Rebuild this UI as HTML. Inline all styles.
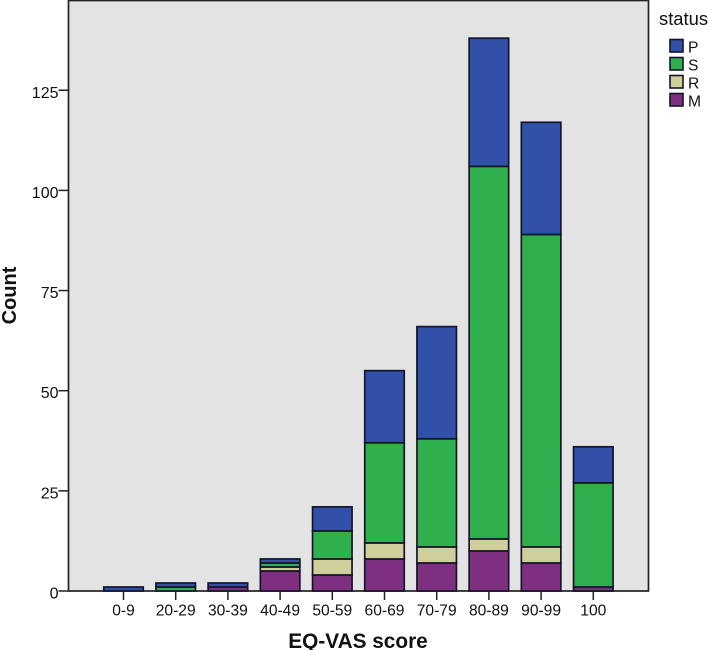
<!DOCTYPE html>
<html>
<head>
<meta charset="utf-8">
<style>
html,body{margin:0;padding:0;background:#fff;}
svg{display:block;}
text{font-family:"Liberation Sans",sans-serif;fill:#111;}
</style>
</head>
<body>
<svg id="chart" xmlns="http://www.w3.org/2000/svg" width="709" height="650" viewBox="0 0 709 650">
<rect x="68.5" y="0.5" width="580" height="590.5" fill="#e3e3e3" stroke="#222" stroke-width="1.7"></rect>
<g id="bars"></g>
<g id="axes"></g>
<text x="358" y="648" font-size="20.8" font-weight="bold" text-anchor="middle">EQ-VAS score</text>
<text transform="translate(16,295.5) rotate(-90)" font-size="20" font-weight="bold" text-anchor="middle">Count</text>
<g id="legend"></g>
</svg>
<script>
const categories = ['0-9','20-29','30-39','40-49','50-59','60-69','70-79','80-89','90-99','100'];
const seriesM = [0,0,1,5,4,8,7,10,7,1];
const seriesR = [0,0,0,1,4,4,4,3,4,0];
const seriesS = [0,1,0,1,7,25,27,93,78,26];
const seriesP = [1,1,1,1,6,18,28,32,28,9];
const yTicks = [0,25,50,75,100,125];
const seriesNames = ['M','R','S','P'];
const legendOrder = ['P','S','R','M'];

const colors = {P:'#3150a8',S:'#30b04c',R:'#d0cf9c',M:'#7f2f80'};
const seriesValues = {M:seriesM,R:seriesR,S:seriesS,P:seriesP};
const NS = 'http://www.w3.org/2000/svg';
function xPos(i){ return 123.5 + i * 52.2; }
function yPos(v){ return 591 - v * 4.006; }
function make(tag, attrs, parent, txt){
  const el = document.createElementNS(NS, tag);
  for (const k in attrs) el.setAttribute(k, attrs[k]);
  if (txt !== undefined) el.textContent = txt;
  parent.appendChild(el);
  return el;
}
const barsG = document.getElementById('bars');
const axesG = document.getElementById('axes');
const legendG = document.getElementById('legend');
const barW = 39.5;

categories.forEach(function(cat, i){
  let cum = 0;
  seriesNames.forEach(function(s){
    const v = seriesValues[s][i];
    if (v <= 0) return;
    const y1 = yPos(cum + v), y0 = yPos(cum);
    const r = make('rect', {x: xPos(i) - barW / 2, y: y1, width: barW, height: y0 - y1, fill: colors[s], stroke: '#15152a', 'stroke-width': 1.7}, barsG);
    
    
    cum += v;
  });
  const tick = make('line', {x1: xPos(i), x2: xPos(i), y1: 591, y2: 600, stroke: '#222', 'stroke-width': 1.5}, axesG);
  
  
  const label = make('text', {x: xPos(i), y: 615.5, 'font-size': 15.6, 'text-anchor': 'middle'}, axesG, cat);
  
  
});

yTicks.forEach(function(v){
  const tick = make('line', {x1: 58.5, x2: 68.5, y1: yPos(v), y2: yPos(v), stroke: '#222', 'stroke-width': 1.5}, axesG);
  
  
  const label = make('text', {x: 58.5, y: yPos(v) + 7.5, 'font-size': 16, 'text-anchor': 'end'}, axesG, String(v));
  
  
});

const legendTitle = make('text', {x: 659, y: 25, 'font-size': 18.4}, legendG, 'status');


legendOrder.forEach(function(s, i){
  const y = 39.5 + i * 18;
  const swatch = make('rect', {x: 670, y: y, width: 13, height: 12.5, fill: colors[s], stroke: '#15152a', 'stroke-width': 1.6}, legendG);
  
  
  const label = make('text', {x: 688, y: y + 13, 'font-size': 15.6}, legendG, s);
  
  
});
</script>
</body>
</html>
